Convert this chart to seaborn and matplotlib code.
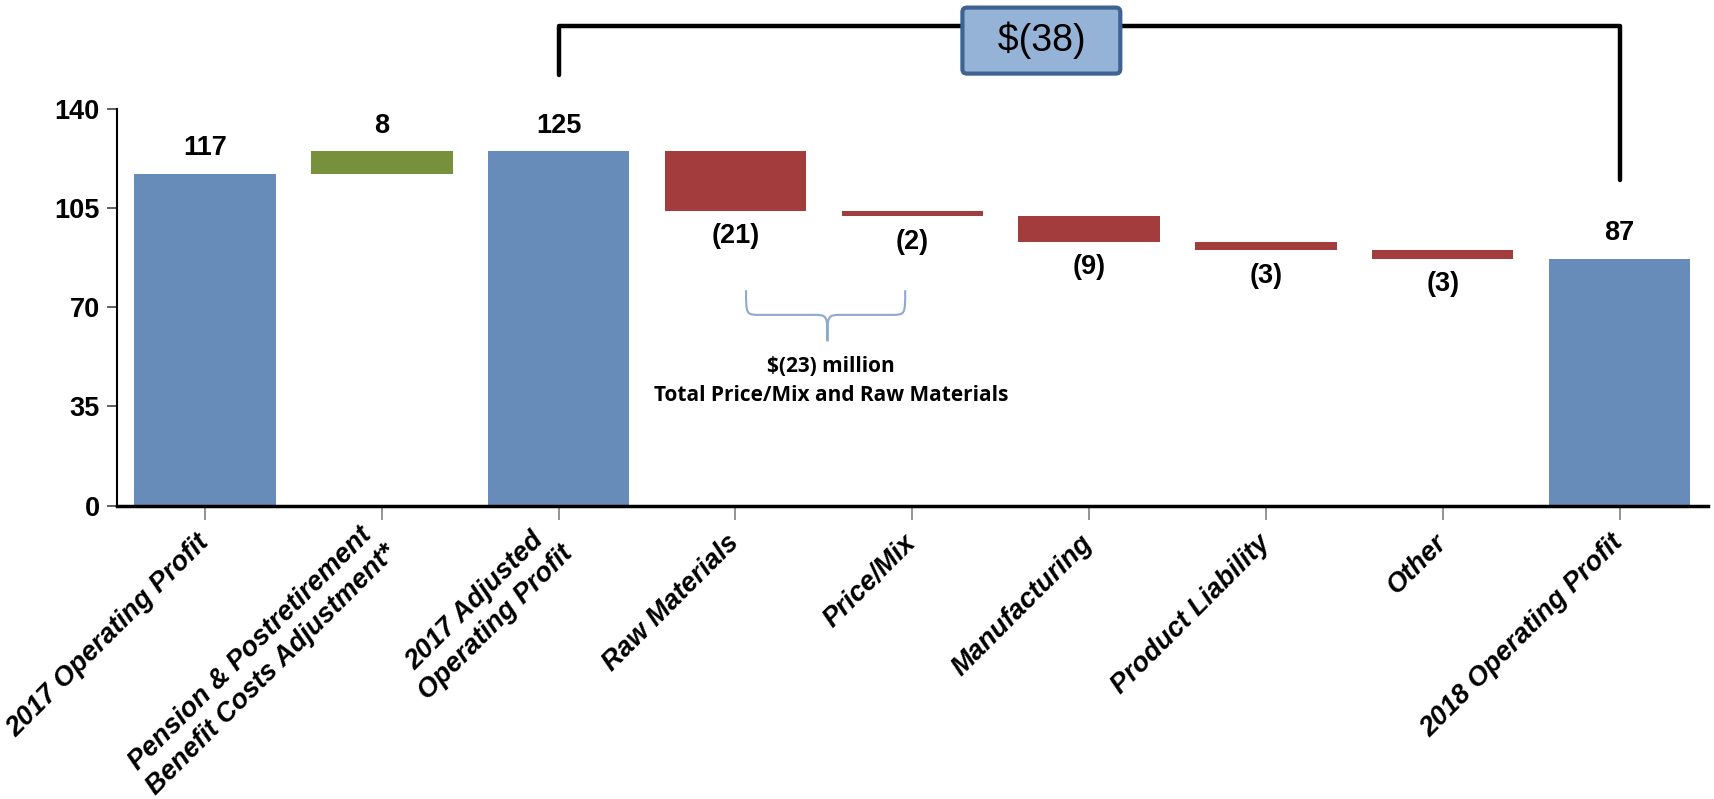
import numpy as np
import pandas as pd
import seaborn as sns
import matplotlib.pyplot as plt
from matplotlib.path import Path
from matplotlib.patches import PathPatch

# waterfall data ($ millions)
categories = ["2017 Operating Profit",
              "Pension & Postretirement\nBenefit Costs Adjustment*",
              "2017 Adjusted\nOperating Profit",
              "Raw Materials", "Price/Mix", "Manufacturing",
              "Product Liability", "Other", "2018 Operating Profit"]
changes = [117, 8, 125, -21, -2, -9, -3, -3, 87]
kinds = ["total", "up", "total", "down", "down", "down", "down", "down", "total"]
value_labels = ["117", "8", "125", "(21)", "(2)", "(9)", "(3)", "(3)", "87"]
yticks = [0, 35, 70, 105, 140]
total_change = "$(38)"
note_text = "$(23) million\nTotal Price/Mix and Raw Materials"

colors = {"total": "#688CBA", "up": "#77903B", "down": "#A33C3C"}

# running totals -> bottoms / heights
bottoms, heights = [], []
running = 0
for c, k in zip(changes, kinds):
    if k == "total":
        bottoms.append(0)
        heights.append(c)
        running = c
    else:
        bottoms.append(running + min(0, c))
        heights.append(abs(c))
        running += c

df = pd.DataFrame({"cat": categories, "height": heights, "bottom": bottoms, "kind": kinds})

sns.set_style("ticks")
narrow = ["Liberation Sans Narrow", "Liberation Sans", "DejaVu Sans"]
plt.rcParams["font.family"] = ["Liberation Sans", "DejaVu Sans"]
plt.rcParams["text.color"] = "black"
plt.rcParams["xtick.labelcolor"] = "black"
plt.rcParams["ytick.labelcolor"] = "black"

fig = plt.figure(figsize=(17.14, 7.99), dpi=100)
ax = fig.add_axes([0.068, 0.367, 0.9285, 0.497])

sns.barplot(data=df, x="cat", y="height", bottom=df["bottom"].values,
            color=colors["total"], width=0.8, ax=ax, errorbar=None)
for p, k in zip(ax.patches, kinds):
    p.set_facecolor(colors[k])
    p.set_edgecolor("none")

# value labels
for i, (b, h, k, lab) in enumerate(zip(bottoms, heights, kinds, value_labels)):
    if k == "down":
        ax.annotate(lab, (i, b), xytext=(0, -9), textcoords="offset points",
                    ha="center", va="top", fontsize=19.5, fontweight="bold", family=narrow)
    else:
        ax.annotate(lab, (i, b + h), xytext=(0, 9), textcoords="offset points",
                    ha="center", va="bottom", fontsize=19.5, fontweight="bold", family=narrow)

ax.set_xlim(-0.5, 8.5)
ax.set_ylim(0, 140)
ax.set_yticks(yticks)
ax.set_yticklabels([str(t) for t in yticks], fontsize=19.5, fontweight="bold", family=narrow)
ax.set_xticks(range(len(categories)))
ax.set_xticklabels(categories, rotation=45, ha="right", va="center", rotation_mode="anchor",
                   fontsize=19.5, fontweight="bold", style="italic", multialignment="center")
ax.set_xlabel("")
ax.set_ylabel("")
ax.tick_params(axis="y", length=7, width=1.2, color="#444444", pad=5)
ax.tick_params(axis="x", length=10, width=1.2, color="#808080", pad=14)
sns.despine(ax=ax)
ax.spines["bottom"].set_linewidth(2.5)
ax.spines["left"].set_linewidth(1.5)
ax.spines["bottom"].set_color("black")
ax.spines["left"].set_color("black")

# total change bracket from 2017 adjusted to 2018
top_y = 169
ax.plot([2, 2, 8, 8], [152, top_y, top_y, 115], color="black", lw=3.2,
        solid_capstyle="round", clip_on=False)
ax.text(4.73, 164, "  " + total_change + "  ", ha="center", va="center", fontsize=27,
        family=narrow, zorder=5, clip_on=False,
        bbox=dict(boxstyle="round,pad=0.38,rounding_size=0.12", fc="#95B3D7", ec="#3F6290", lw=3))

# curly brace under Raw Materials + Price/Mix
xl, xr, xc = 3.06, 3.96, 3.52
yt, yh, ytip = 76, 67.3, 58
verts = [(xl, yt), (xl, yh), (xl, yh), (xl + 0.08, yh), (xc - 0.08, yh),
         (xc, yh), (xc, yh), (xc, ytip),
         (xr, yt), (xr, yh), (xr, yh), (xr - 0.08, yh), (xc + 0.08, yh),
         (xc, yh), (xc, yh), (xc, ytip)]
codes = [Path.MOVETO, Path.CURVE4, Path.CURVE4, Path.CURVE4, Path.LINETO,
         Path.CURVE4, Path.CURVE4, Path.CURVE4] * 2
ax.add_patch(PathPatch(Path(verts, codes), fc="none", ec="#8EA9CF", lw=1.5))
ax.text(3.54, 44, note_text, ha="center", va="center", fontsize=15, fontweight="bold",
        family=["Open Sans", "DejaVu Sans"], linespacing=1.45)

fig.savefig("out.png", dpi=100)
